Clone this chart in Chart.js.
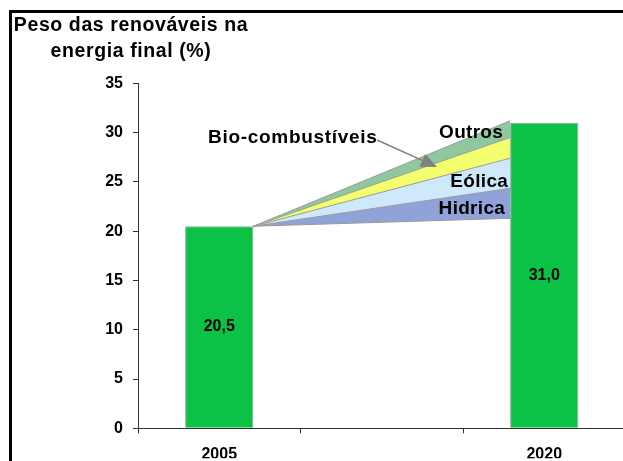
<!DOCTYPE html>
<html lang="pt">

<head>
    <meta charset="UTF-8">
    <title>Peso das renováveis na energia final</title>
    <script src="https://cdn.jsdelivr.net/npm/chart.js"></script>
    <style>
        html, body { margin: 0; padding: 0; width: 623px; height: 461px; overflow: hidden; background: #fff; }
        .frame { position: absolute; left: 9px; top: 10px; width: 700px; height: 600px; border: 3px solid #000; box-sizing: border-box; }
        .holder { position: absolute; left: 0; top: 0; width: 640px; height: 480px; }
    </style>
</head>

<body>
    <div class="frame"></div>
    <div class="holder">
        <canvas id="renov" width="640" height="480"></canvas>
    </div>

    <script>
        // data
        const years = ['2005', '', '2020'];
        const totals = [20.5, null, 31.0];
        const valueLabels = ['20,5', '', '31,0'];

        // wedge between the two bars: all layers start at the 2005 total
        const wedgeStart = 20.5;
        const wedgeBaseEnd = 21.3;
        const layerNames = ['Hidrica', 'Eólica', 'Bio-combustíveis', 'Outros'];
        const layerTops = [24.35, 27.4, 29.5, 31.2];
        const layerColors = ['#8fa3d8', '#cde9fb', '#f4ff6e', '#8fc79e'];

        const titleLines = ['Peso das renováveis na', 'energia final (%)'];

        const barShare = 0.42;
        const fontFamily = '"Liberation Sans", Arial, sans-serif';

        document.addEventListener('DOMContentLoaded', function () {
            const ctx = document.getElementById('renov').getContext('2d');

            const x0 = 0 + barShare / 2;
            const x1 = 2 - barShare / 2;

            const datasets = [{
                type: 'bar',
                data: totals,
                backgroundColor: '#0bc246',
                borderColor: '#9a9a9a',
                borderWidth: 1,
                barPercentage: barShare,
                categoryPercentage: 1,
                grouped: false,
                xAxisID: 'x',
                order: 0
            }, {
                type: 'line',
                data: [{ x: x0, y: wedgeStart }, { x: x1, y: wedgeBaseEnd }],
                xAxisID: 'x2',
                borderColor: '#9a9a9a',
                borderWidth: 1,
                pointRadius: 0,
                fill: false,
                order: 1
            }];

            layerTops.forEach(function (top, i) {
                datasets.push({
                    type: 'line',
                    label: layerNames[i],
                    data: [{ x: x0, y: wedgeStart }, { x: x1, y: top }],
                    xAxisID: 'x2',
                    borderColor: '#9a9a9a',
                    borderWidth: 1,
                    pointRadius: 0,
                    backgroundColor: layerColors[i],
                    fill: '-1',
                    order: 1
                });
            });

            // text on the chart
            const notes = [
                { text: 'Outros', x: x1, dx: -7, y: 30.0, align: 'right' },
                { text: 'Eólica', x: x1, dx: -2, y: 25.0, align: 'right' },
                { text: 'Hidrica', x: x1, dx: -5, y: 22.3, align: 'right' },
                { text: 'Bio-combustíveis', x: 0, dx: -11, y: 29.5, align: 'left' }
            ];

            const decorations = {
                id: 'decorations',
                afterDatasetsDraw(chart) {
                    const c = chart.ctx;
                    const xs = chart.scales.x2;
                    const ys = chart.scales.y;
                    c.save();

                    // title
                    c.fillStyle = '#000';
                    c.font = 'bold 19.5px ' + fontFamily;
                    c.letterSpacing = '0.6px';
                    c.textAlign = 'center';
                    c.textBaseline = 'alphabetic';
                    c.fillText(titleLines[0], 131, 31);
                    c.fillText(titleLines[1], 131, 57);

                    // values inside the bars
                    c.letterSpacing = '0px';
                    c.font = 'bold 16px ' + fontFamily;
                    c.textBaseline = 'middle';
                    chart.getDatasetMeta(0).data.forEach(function (bar, i) {
                        if (totals[i] === null) return;
                        c.fillText(valueLabels[i], bar.x, (bar.y + bar.base) / 2);
                    });

                    // arrow to the bio-combustíveis layer
                    c.strokeStyle = '#808080';
                    c.fillStyle = '#808080';
                    c.lineWidth = 1.5;
                    const ax = 377, ay = 140, bx = 437, by = 167;
                    const ang = Math.atan2(by - ay, bx - ax);
                    c.beginPath();
                    c.moveTo(ax, ay);
                    c.lineTo(bx - 10 * Math.cos(ang), by - 10 * Math.sin(ang));
                    c.stroke();
                    c.beginPath();
                    c.moveTo(bx, by);
                    c.lineTo(bx - 16 * Math.cos(ang) + 7 * Math.sin(ang), by - 16 * Math.sin(ang) - 7 * Math.cos(ang));
                    c.lineTo(bx - 16 * Math.cos(ang) - 7 * Math.sin(ang), by - 16 * Math.sin(ang) + 7 * Math.cos(ang));
                    c.closePath();
                    c.fill();

                    // layer names
                    c.fillStyle = '#000';
                    c.font = 'bold 19px ' + fontFamily;
                    notes.forEach(function (n) {
                        c.textAlign = n.align;
                        c.letterSpacing = n.align === 'left' ? '0.7px' : '0.3px';
                        const px = n.align === 'left' ? 208 : xs.getPixelForValue(n.x) + n.dx;
                        c.fillText(n.text, px, ys.getPixelForValue(n.y));
                    });
                    c.restore();
                }
            };

            new Chart(ctx, {
                data: {
                    labels: years,
                    datasets: datasets
                },
                options: {
                    responsive: false,
                    animation: false,
                    devicePixelRatio: 1,
                    layout: {
                        padding: { left: 0, right: 14.5, top: 83.3, bottom: 21.7 }
                    },
                    plugins: {
                        legend: { display: false },
                        tooltip: { enabled: false }
                    },
                    scales: {
                        x: {
                            type: 'category',
                            offset: true,
                            grid: {
                                offset: true,
                                drawOnChartArea: false,
                                drawTicks: true,
                                tickLength: 5,
                                color: '#333'
                            },
                            border: { display: true, color: '#333', width: 1 },
                            ticks: {
                                color: '#000',
                                padding: 12,
                                font: { family: fontFamily, size: 16, weight: 'bold' }
                            },
                            afterFit: function (scale) { scale.height = 30; }
                        },
                        x2: {
                            type: 'linear',
                            display: false,
                            min: -0.5,
                            max: 2.5
                        },
                        y: {
                            min: 0,
                            max: 35,
                            ticks: {
                                stepSize: 5,
                                color: '#000',
                                padding: 10,
                                font: { family: fontFamily, size: 16, weight: 'bold' }
                            },
                            grid: {
                                drawOnChartArea: false,
                                drawTicks: true,
                                tickLength: 5,
                                color: '#333'
                            },
                            border: { display: true, color: '#333', width: 1 },
                            afterFit: function (scale) { scale.width = 138; }
                        }
                    }
                },
                plugins: [decorations]
            });
        });
    </script>

</body>

</html>
